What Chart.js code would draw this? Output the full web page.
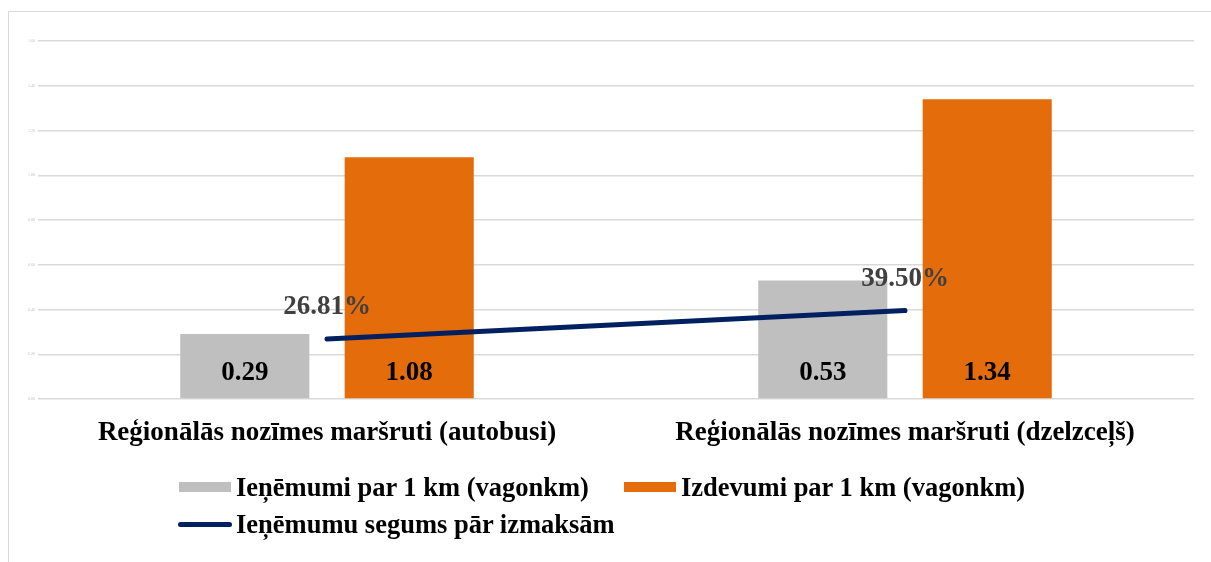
<!DOCTYPE html>
<html>
<head>
<meta charset="utf-8">
<script src="https://cdn.jsdelivr.net/npm/chart.js@4"></script>
<style>
  html, body { margin: 0; padding: 0; background: #fff; }
  #wrap { position: relative; width: 1211px; height: 562px; overflow: hidden; }
  #frame { position: absolute; left: 8px; top: 11px; width: 1300px; height: 600px;
           border-top: 1.5px solid #d9d9d9; border-left: 1.5px solid #d9d9d9; }
  #legend { position: absolute; left: 179px; top: 472px;
            font-family: "Liberation Serif", "Times New Roman", serif; font-weight: bold;
            font-size: 26.5px; color: #000; }
  .row { display: flex; align-items: center; height: 30px; margin-bottom: 7px; }
  .item { display: flex; align-items: center; white-space: nowrap; }
  .box { width: 52px; height: 10px; margin-right: 5px; }
  .ln { width: 54px; height: 5px; border-radius: 3px; margin-right: 4px; margin-left: -1px; }
</style>
</head>
<body>
<div id="wrap">
  <div id="frame"></div>
  <canvas id="chart" width="1211" height="562"></canvas>
  <div id="legend"></div>
</div>
<script>
const categories = ['Reģionālās nozīmes maršruti (autobusi)', 'Reģionālās nozīmes maršruti (dzelzceļš)'];
const revenuePerKm = [0.29, 0.53];
const costPerKm = [1.08, 1.34];
const coverage = [0.2681, 0.395];
const yTicks = [0, 0.2, 0.4, 0.6, 0.8, 1.0, 1.2, 1.4, 1.6];

const seriesNames = ['Ieņēmumi par 1 km (vagonkm)', 'Izdevumi par 1 km (vagonkm)', 'Ieņēmumu segums pār izmaksām'];
const FONT = '"Liberation Serif", "Times New Roman", serif';

// draws the value labels: bars at their bottom, line above its points
const valueLabels = {
    id: 'valueLabels',
    afterDatasetsDraw(chart) {
        const ctx = chart.ctx;
        ctx.save();
        ctx.textAlign = 'center';
        ctx.textBaseline = 'middle';
        ctx.font = 'bold 27px ' + FONT;
        chart.data.datasets.forEach((ds, i) => {
            const meta = chart.getDatasetMeta(i);
            meta.data.forEach((el, j) => {
                const v = ds.data[j];
                if (ds.type === 'line') {
                    ctx.fillStyle = '#404040';
                    ctx.fillText((v * 100).toFixed(2) + '%', el.x, el.y - 32);
                } else {
                    ctx.fillStyle = '#000';
                    ctx.fillText(v.toFixed(2), el.x, el.base - 25);
                }
            });
        });
        ctx.restore();
    }
};

const ctx = document.getElementById('chart').getContext('2d');
const chart = new Chart(ctx, {
    type: 'bar',
    data: {
        labels: categories,
        datasets: [{
            label: seriesNames[0],
            data: revenuePerKm,
            backgroundColor: '#bfbfbf',
            categoryPercentage: 0.569,
            barPercentage: 0.785,
            order: 1
        }, {
            label: seriesNames[1],
            data: costPerKm,
            backgroundColor: '#e46c0a',
            categoryPercentage: 0.569,
            barPercentage: 0.785,
            order: 1
        }, {
            type: 'line',
            label: seriesNames[2],
            data: coverage,
            borderColor: '#002060',
            borderWidth: 5,
            borderCapStyle: 'round',
            pointRadius: 0,
            order: 0
        }]
    },
    options: {
        responsive: false,
        animation: false,
        layout: { padding: { left: 10, right: 17, top: 41, bottom: 113 } },
        plugins: {
            legend: { display: false },
            tooltip: { enabled: false }
        },
        scales: {
            x: {
                grid: { display: false, drawTicks: false },
                border: { display: false },
                ticks: {
                    padding: 18,
                    color: '#000',
                    font: { family: FONT, size: 27, weight: 'bold' }
                },
                afterFit(scale) { scale.height = 50; }
            },
            y: {
                min: 0,
                max: 1.6,
                afterBuildTicks(scale) { scale.ticks = yTicks.map(v => ({ value: v })); },
                grid: { color: '#d9d9d9', lineWidth: 1.5, drawTicks: false },
                border: { display: false },
                ticks: {
                    padding: 3,
                    color: '#bfbfbf',
                    font: { family: FONT, size: 4 },
                    callback: v => v.toFixed(2)
                },
                afterFit(scale) { scale.width = 28; }
            }
        }
    },
    plugins: [valueLabels]
});

// legend: two bar items on the first row, the line on the second
const legend = document.getElementById('legend');
const rows = [[0, 1], [2]];
const itemLeft = [0, 445];
rows.forEach(r => {
    const row = document.createElement('div');
    row.className = 'row';
    r.forEach((i, k) => {
        const ds = chart.data.datasets[i];
        const item = document.createElement('div');
        item.className = 'item';
        if (k > 0) {
            item.style.position = 'absolute';
            item.style.left = itemLeft[k] + 'px';
        }
        const mark = document.createElement('span');
        if (ds.type === 'line') {
            mark.className = 'ln';
            mark.style.background = ds.borderColor;
        } else {
            mark.className = 'box';
            mark.style.background = ds.backgroundColor;
        }
        const txt = document.createElement('span');
        txt.textContent = ds.label;
        item.appendChild(mark);
        item.appendChild(txt);
        row.appendChild(item);
    });
    legend.appendChild(row);
});
</script>
</body>
</html>
